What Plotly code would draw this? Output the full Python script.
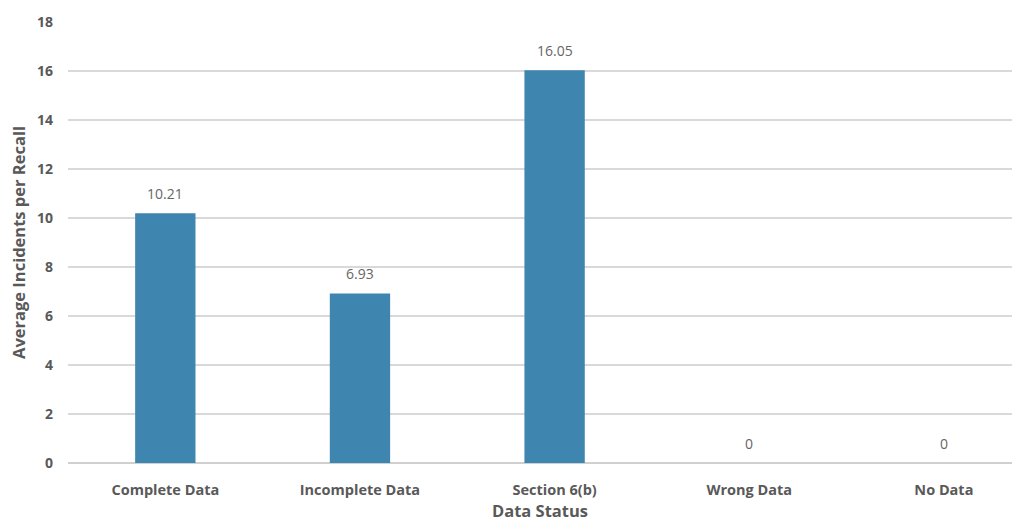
import plotly.graph_objects as go

categories = ["Complete Data", "Incomplete Data", "Section 6(b)", "Wrong Data", "No Data"]
avg_incidents = [10.21, 6.93, 16.05, 0, 0]
value_labels = ["10.21", "6.93", "16.05", "0", "0"]
y_ticks = [0, 2, 4, 6, 8, 10, 12, 14, 16, 18]

grey = "#595959"
font_family = "'Open Sans', Lato, sans-serif"

positions = list(range(len(categories)))

fig = go.Figure(
    go.Bar(
        x=positions,
        y=avg_incidents,
        width=0.31,
        marker=dict(color="#3E85B0", line=dict(width=0)),
        hoverinfo="skip",
    )
)

# Value labels sitting a little above each bar
for xi, yi, label in zip(positions, avg_incidents, value_labels):
    fig.add_annotation(
        x=xi,
        y=yi,
        text=label,
        showarrow=False,
        yanchor="bottom",
        yshift=8,
        font=dict(family=font_family, size=14, color="#666666"),
    )

fig.update_layout(
    width=1012,
    height=523,
    margin=dict(l=68, r=0, t=22, b=60),
    paper_bgcolor="white",
    plot_bgcolor="white",
    showlegend=False,
    xaxis=dict(
        range=[-0.5, 4.35],
        tickvals=positions,
        ticktext=categories,
        showgrid=False,
        zeroline=False,
        showline=False,
        ticks="",
        ticklabelstandoff=16,
        tickfont=dict(family=font_family, size=14.5, color=grey, weight="bold"),
        title=dict(
            text="Data Status",
            standoff=7,
            font=dict(family=font_family, size=16.5, color=grey, weight="bold"),
        ),
    ),
    yaxis=dict(
        range=[0, 18.02],
        tickvals=y_ticks,
        showgrid=True,
        gridcolor="#D9D9D9",
        gridwidth=1.5,
        zeroline=True,
        zerolinecolor="#D0D0D0",
        zerolinewidth=1.5,
        showline=False,
        ticks="",
        ticklabelstandoff=14,
        tickfont=dict(family=font_family, size=14, color=grey, weight="bold"),
        title=dict(
            text="Average Incidents per Recall",
            standoff=7,
            font=dict(family=font_family, size=16.5, color=grey, weight="bold"),
        ),
    ),
)

fig.write_html("out.html")
